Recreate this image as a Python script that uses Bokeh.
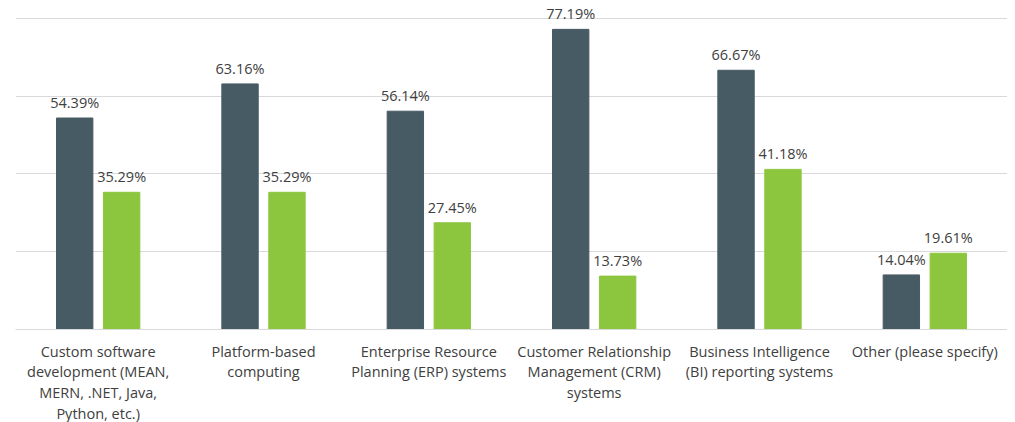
from bokeh.plotting import figure
from bokeh.models import ColumnDataSource, FactorRange, Range1d, LabelSet
from bokeh.transform import dodge
from bokeh.core.properties import value
from bokeh.embed import file_html
from bokeh.resources import INLINE

categories = [
    "Custom software\ndevelopment (MEAN,\nMERN, .NET, Java,\nPython, etc.)",
    "Platform-based\ncomputing",
    "Enterprise Resource\nPlanning (ERP) systems",
    "Customer Relationship\nManagement (CRM)\nsystems",
    "Business Intelligence\n(BI) reporting systems",
    "Other (please specify)",
]
series_a = [54.39, 63.16, 56.14, 77.19, 66.67, 14.04]
series_b = [35.29, 35.29, 27.45, 13.73, 41.18, 19.61]

src = ColumnDataSource(dict(
    cat=categories, a=series_a, b=series_b,
    a_lab=[f"{v:.2f}%" for v in series_a],
    b_lab=[f"{v:.2f}%" for v in series_b],
))

p = figure(x_range=FactorRange(*categories), y_range=Range1d(0, 84.1),
           frame_width=992, frame_height=327, output_backend="svg", toolbar_location=None,
           min_border_left=15, min_border_right=0, min_border_top=2, min_border_bottom=0)

dark = "#475b65"
green = "#8cc63f"
off = 0.142
w = 0.22
p.vbar(x=dodge("cat", -off, range=p.x_range), top="a", width=w, source=src,
       fill_color=dark, line_color=dark)
p.vbar(x=dodge("cat", off, range=p.x_range), top="b", width=w, source=src,
       fill_color=green, line_color=green)

font = "Open Sans"
for xcol, ycol, lab in [(-off, "a", "a_lab"), (off, "b", "b_lab")]:
    ls = LabelSet(x=dodge("cat", xcol, range=p.x_range), y=ycol, text=lab, source=src,
                  text_align="center", text_baseline="bottom", y_offset=6,
                  text_font=value(font), text_font_size="14.5px", text_color="#404040")
    p.add_layout(ls)

p.yaxis.visible = False
p.xgrid.grid_line_color = None
p.ygrid.grid_line_color = "#d9d9d9"
p.ygrid.ticker = [0, 20, 40, 60, 80]
p.outline_line_color = None
p.xaxis.axis_line_color = "#d9d9d9"
p.xaxis.major_tick_line_color = None
p.xaxis.minor_tick_line_color = None
p.xaxis.major_label_text_font = font
p.xaxis.major_label_text_font_size = "14.5px"
p.xaxis.major_label_text_line_height = 1.1
p.xaxis.major_label_text_color = "#404040"
p.xaxis.major_label_standoff = 6

open("out.html", "w").write(file_html(p, INLINE))
